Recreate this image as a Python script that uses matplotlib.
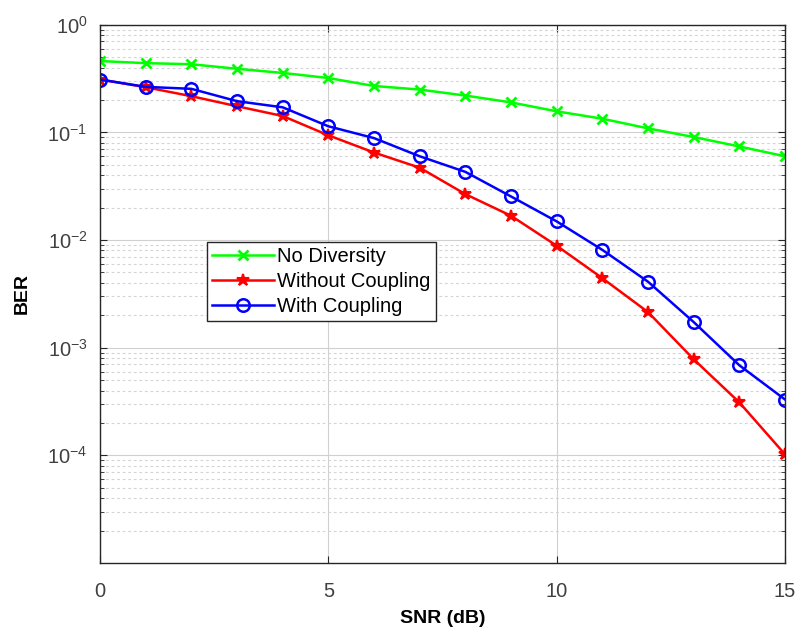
import matplotlib
matplotlib.use("Agg")
import matplotlib.pyplot as plt
import numpy as np
from matplotlib.ticker import LogLocator, NullFormatter, FixedLocator

plt.rcParams['font.family'] = ['Liberation Sans', 'DejaVu Sans']
plt.rcParams['mathtext.fontset'] = 'custom'
plt.rcParams['mathtext.rm'] = 'Liberation Sans'
plt.rcParams['mathtext.it'] = 'Liberation Sans'
plt.rcParams['mathtext.default'] = 'regular'
plt.rcParams['axes.unicode_minus'] = False

snr = list(range(0, 16))
ber_no_div = [0.46, 0.44, 0.43, 0.39, 0.357, 0.32, 0.27, 0.25, 0.22, 0.19,
              0.157, 0.134, 0.109, 0.0906, 0.074, 0.060]
ber_without = [0.31, 0.263, 0.217, 0.175, 0.142, 0.094, 0.065, 0.047, 0.0267, 0.0168,
               0.00885, 0.00442, 0.00214, 0.00078, 0.00031, 0.000102]
ber_with = [0.31, 0.265, 0.254, 0.195, 0.171, 0.114, 0.0885, 0.060, 0.043, 0.0254,
            0.0149, 0.0081, 0.0041, 0.00173, 0.000686, 0.00033]
labels = ["No Diversity", "Without Coupling", "With Coupling"]
xticks = [0, 5, 10, 15]
yticks = [1e-4, 1e-3, 1e-2, 1e-1, 1e0]

fig = plt.figure(figsize=(7.97, 6.35), dpi=100)
ax = fig.add_axes([0.1255, 0.1134, 0.8595, 0.8476])

lw = 1.8
ax.semilogy(snr, ber_no_div, color='#00ff00', lw=lw, marker='x', ms=7, mew=2, label=labels[0])
ax.semilogy(snr, ber_without, color='#ff0000', lw=lw, marker='*', ms=9, mew=1.5, label=labels[1])
ax.semilogy(snr, ber_with, color='#0000ff', lw=lw, marker='o', ms=9, mew=1.8,
            markerfacecolor='none', label=labels[2])

ax.set_xlim(0, 15)
ax.set_ylim(1e-5, 1)
ax.set_xticks(xticks)
ax.set_xticklabels([str(t) for t in xticks])
ax.yaxis.set_major_locator(FixedLocator(yticks))
ax.set_yticklabels([r'$10^{%d}$' % int(np.log10(t)) for t in yticks])
ax.yaxis.set_minor_locator(LogLocator(base=10, subs=np.arange(2, 10), numticks=20))
ax.yaxis.set_minor_formatter(NullFormatter())

# grid
ax.grid(True, which='major', axis='both', color='#d0d0d0', lw=0.8, ls='-')
ax.grid(True, which='minor', axis='y', color='#d4d4d4', lw=0.8, ls=(0, (2.5, 2.5)))
ax.set_axisbelow(True)

ax.tick_params(which='both', direction='in', top=True, right=True, colors='#262626',
               labelsize=14.5, labelcolor='#404040')
ax.tick_params(axis='x', which='major', pad=14)
ax.tick_params(axis='y', which='major', pad=9)
ax.tick_params(which='major', length=5)
ax.tick_params(which='minor', length=3)
for s in ax.spines.values():
    s.set_color('#262626')
    s.set_linewidth(1.0)

ax.set_xlabel('SNR (dB)', fontsize=14, fontweight='bold', labelpad=6)
ax.set_ylabel('BER', fontsize=14, fontweight='bold', labelpad=12)

leg = ax.legend(loc='lower left', bbox_to_anchor=(0.156, 0.449), fontsize=14.5,
                fancybox=False, framealpha=1, edgecolor='#262626', borderpad=0.25,
                handlelength=3.1, handletextpad=0.15, labelspacing=0.3, borderaxespad=0)
leg.get_frame().set_linewidth(1.0)

fig.savefig('out.png', dpi=100)
